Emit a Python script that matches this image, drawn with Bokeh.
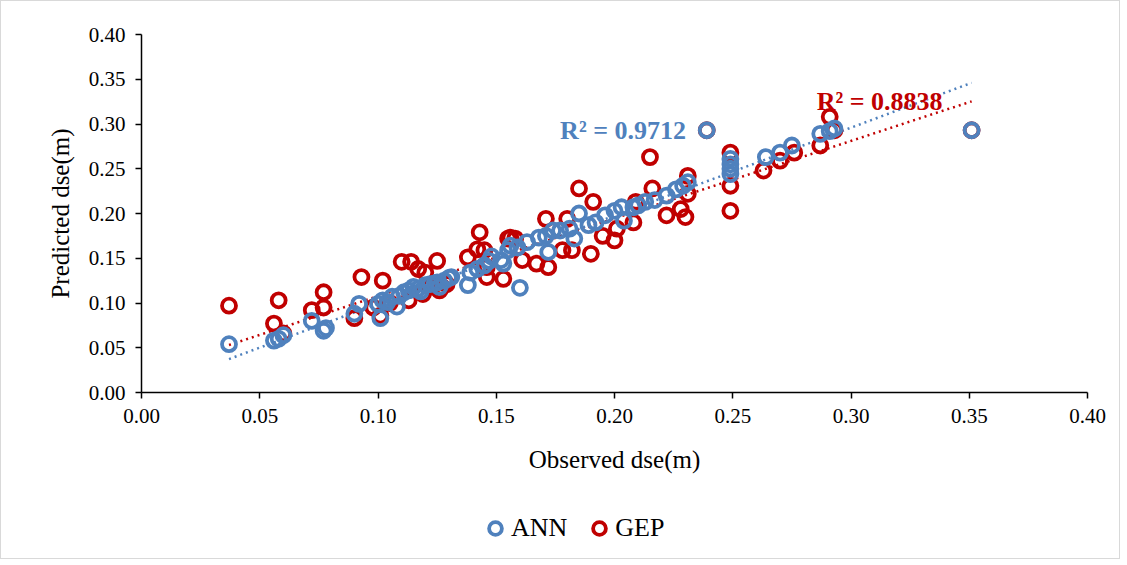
from bokeh.plotting import figure
from bokeh.layouts import column
from bokeh.models import (Range1d, FixedTicker, NumeralTickFormatter, Legend,
                          LegendItem, Label, ColumnDataSource)
from bokeh.embed import file_html
from bokeh.resources import INLINE

# ---------------- data ----------------
ann_obs = [0.037, 0.056, 0.058, 0.060, 0.072, 0.077, 0.078, 0.090, 0.092, 0.100,
           0.101, 0.102, 0.104, 0.106, 0.108, 0.109, 0.111, 0.113, 0.115, 0.117,
           0.118, 0.120, 0.122, 0.124, 0.125, 0.126, 0.128, 0.130, 0.131, 0.138,
           0.139, 0.142, 0.145, 0.147, 0.148, 0.152, 0.153, 0.155, 0.156, 0.159,
           0.160, 0.163, 0.168, 0.171, 0.172, 0.174, 0.177, 0.181, 0.183, 0.185,
           0.189, 0.192, 0.196, 0.200, 0.203, 0.204, 0.208, 0.210, 0.213, 0.217,
           0.222, 0.226, 0.229, 0.231, 0.239, 0.249, 0.249, 0.249, 0.249, 0.264,
           0.270, 0.275, 0.287, 0.291, 0.293, 0.351]
ann_pred = [0.054, 0.058, 0.060, 0.064, 0.080, 0.069, 0.072, 0.088, 0.099, 0.099,
            0.083, 0.103, 0.101, 0.107, 0.096, 0.108, 0.112, 0.114, 0.118, 0.116,
            0.113, 0.120, 0.121, 0.122, 0.123, 0.118, 0.125, 0.128, 0.129, 0.120,
            0.134, 0.138, 0.142, 0.147, 0.152, 0.148, 0.144, 0.159, 0.164, 0.162,
            0.117, 0.168, 0.173, 0.175, 0.157, 0.181, 0.181, 0.183, 0.172, 0.200,
            0.187, 0.190, 0.198, 0.203, 0.207, 0.192, 0.207, 0.209, 0.213, 0.215,
            0.220, 0.227, 0.231, 0.235, 0.293, 0.244, 0.250, 0.255, 0.261, 0.263,
            0.268, 0.276, 0.289, 0.292, 0.295, 0.293]

gep_obs = [0.037, 0.056, 0.058, 0.060, 0.072, 0.077, 0.077, 0.090, 0.093, 0.098,
           0.101, 0.102, 0.105, 0.110, 0.113, 0.114, 0.117, 0.119, 0.120, 0.122,
           0.125, 0.126, 0.127, 0.129, 0.138, 0.142, 0.143, 0.145, 0.146, 0.146,
           0.153, 0.155, 0.156, 0.158, 0.161, 0.167, 0.172, 0.171, 0.178, 0.180,
           0.182, 0.185, 0.190, 0.191, 0.195, 0.200, 0.201, 0.208, 0.209, 0.215,
           0.216, 0.222, 0.228, 0.230, 0.231, 0.231, 0.239, 0.249, 0.249, 0.249,
           0.263, 0.270, 0.276, 0.287, 0.291, 0.293, 0.351]
gep_pred = [0.097, 0.077, 0.103, 0.066, 0.092, 0.112, 0.095, 0.083, 0.129, 0.095,
            0.086, 0.125, 0.100, 0.146, 0.103, 0.146, 0.138, 0.110, 0.134, 0.118,
            0.147, 0.114, 0.118, 0.121, 0.151, 0.160, 0.179, 0.159, 0.129, 0.140,
            0.127, 0.172, 0.173, 0.172, 0.148, 0.144, 0.140, 0.194, 0.159, 0.194,
            0.159, 0.228, 0.155, 0.213, 0.175, 0.170, 0.183, 0.190, 0.213, 0.263,
            0.228, 0.198, 0.205, 0.196, 0.222, 0.242, 0.293, 0.268, 0.231, 0.203,
            0.248, 0.259, 0.268, 0.276, 0.308, 0.293, 0.293]

# linear trendlines (slope, intercept) and their R² as shown
ann_fit = [0.983, 0.001]
gep_fit = [0.867, 0.021]
ann_r2_text = "R² = 0.9712"
gep_r2_text = "R² = 0.8838"

tick_values = [0.00, 0.05, 0.10, 0.15, 0.20, 0.25, 0.30, 0.35, 0.40]
series_names = ["ANN", "GEP"]
x_title = "Observed dse(m)"
y_title = "Predicted dse(m)"

BLUE = "#4F81BD"
RED = "#C00000"
FONT = "Liberation Serif"
W = 1118
H_MAIN = 497
H_LEG = 60

p = figure(width=W, height=H_MAIN, output_backend="svg", toolbar_location=None,
           x_range=Range1d(0, 0.4), y_range=Range1d(0, 0.4),
           min_border_left=140, min_border_right=32, min_border_top=33,
           min_border_bottom=106)
p.outline_line_color = None
p.xgrid.visible = False
p.ygrid.visible = False
p.background_fill_color = "white"
p.border_fill_color = "white"

for ax in (p.xaxis[0], p.yaxis[0]):
    ax.ticker = FixedTicker(ticks=tick_values)
    ax.formatter = NumeralTickFormatter(format="0.00")
    ax.axis_line_color = "black"
    ax.axis_line_width = 1.5
    ax.major_tick_line_color = "black"
    ax.major_tick_line_width = 1.5
    ax.major_tick_out = 6
    ax.major_tick_in = 0
    ax.minor_tick_line_color = None
    ax.major_label_text_font = FONT
    ax.major_label_text_font_size = "21px"
    ax.major_label_text_color = "black"
    ax.major_label_standoff = 10
    ax.axis_label_text_font = FONT
    ax.axis_label_text_font_size = "25px"
    ax.axis_label_text_font_style = "normal"
    ax.axis_label_text_color = "black"

p.xaxis.axis_label = x_title
p.yaxis.axis_label = y_title
p.xaxis.axis_label_standoff = 20
p.yaxis.axis_label_standoff = 12

# trendlines
x0 = min(min(ann_obs), min(gep_obs))
x1 = max(max(ann_obs), max(gep_obs))
tx = [x0, x1]
p.line(tx, [ann_fit[0] * v + ann_fit[1] for v in tx], line_color=BLUE,
       line_width=2.5, line_dash="2 4")
p.line(tx, [gep_fit[0] * v + gep_fit[1] for v in tx], line_color=RED,
       line_width=2.5, line_dash="2 4")

marker_style = dict(marker="circle", size=14, line_width=3.8, fill_color=None)
src_gep = ColumnDataSource(dict(x=gep_obs, y=gep_pred))
src_ann = ColumnDataSource(dict(x=ann_obs, y=ann_pred))
p.scatter("x", "y", source=src_gep, line_color=RED, **marker_style)
p.scatter("x", "y", source=src_ann, line_color=BLUE, **marker_style)

p.add_layout(Label(x=0.177, y=0.2927, text=ann_r2_text, text_font=FONT,
                   text_font_size="26px", text_font_style="bold",
                   text_color=BLUE, text_baseline="middle", text_align="left"))
p.add_layout(Label(x=0.2855, y=0.325, text=gep_r2_text, text_font=FONT,
                   text_font_size="26px", text_font_style="bold",
                   text_color=RED, text_baseline="middle", text_align="left"))

# legend strip below the chart (its ranges keep the series' points out of view)
pl = figure(width=W, height=H_LEG, output_backend="svg", toolbar_location=None,
            x_range=Range1d(10, 11), y_range=Range1d(10, 11),
            min_border=0, x_axis_type=None, y_axis_type=None)
pl.outline_line_color = None
pl.xgrid.visible = False
pl.ygrid.visible = False
l_ann = pl.scatter("x", "y", source=src_ann, line_color=BLUE, **marker_style)
l_gep = pl.scatter("x", "y", source=src_gep, line_color=RED, **marker_style)
legend = Legend(items=[LegendItem(label=series_names[0], renderers=[l_ann]),
                       LegendItem(label=series_names[1], renderers=[l_gep])],
                orientation="horizontal", location=(338, 14),
                border_line_color=None, background_fill_alpha=0,
                label_text_font=FONT, label_text_font_size="26px",
                label_text_color="black", margin=0, spacing=16,
                glyph_width=32, glyph_height=32, label_standoff=0, padding=0)
pl.add_layout(legend, "center")

layout = column(p, pl, spacing=0)
layout.styles = {"border": "1px solid #d9d9d9"}

open("out.html", "w").write(file_html(layout, INLINE))
